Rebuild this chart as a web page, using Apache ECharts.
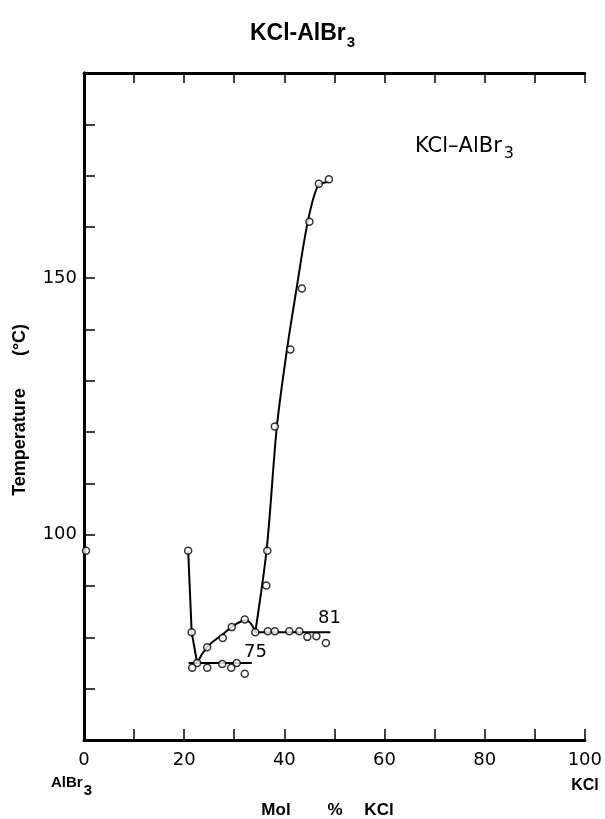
<!DOCTYPE html>
<html>
<head>
<meta charset="utf-8">
<script src="https://cdn.jsdelivr.net/npm/echarts@6/dist/echarts.min.js"></script>
<style>
  html, body { margin: 0; padding: 0; background: #fff; }
  #chart { width: 605px; height: 819px; }
</style>
</head>
<body>
<div id="chart"></div>
<script>
// measured points (mol % KCl, temperature in degC)
var measured = [
    [0.4, 96.9], [20.8, 96.9], [21.5, 81.0], [22.6, 75.0], [21.6, 74.1],
    [24.6, 74.1], [27.6, 74.8], [29.4, 74.1], [30.5, 75.0], [32.1, 72.9],
    [24.6, 78.1], [27.7, 79.9], [29.5, 82.0], [32.1, 83.5], [34.2, 81.0],
    [36.7, 81.2], [38.1, 81.2], [41.0, 81.2], [43.0, 81.2], [44.6, 80.1],
    [46.4, 80.2], [48.3, 78.9], [36.6, 96.9], [36.4, 90.1], [38.1, 121.1],
    [41.2, 136.1], [43.5, 148.0], [45.0, 161.0], [46.9, 168.4], [48.9, 169.3]
];
// drawn curves
var leftBranch = [[20.8, 96.9], [21.5, 81.0], [22.6, 75.0]];
var hump = [[22.6, 75.0], [24.6, 78.1], [27.7, 80.6], [30.5, 82.7], [32.3, 83.3], [34.2, 81.0]];
var rightBranch = [[34.2, 81.0], [36.5, 97.4], [38.5, 121.0], [40.5, 135.9], [42.4, 147.7],
    [44.6, 160.6], [46.7, 168.0], [48.9, 168.8]];
var line75 = [[20.9, 75.0], [33.5, 75.0]];
var line81 = [[34.2, 81.0], [49.2, 81.0]];
var xTicks = [0, 20, 40, 60, 80, 100];
var yTicks = [100, 150];

var myChart = echarts.init(document.getElementById('chart'));
var font = 'Liberation Sans, Arial, sans-serif';
var font2 = 'DejaVu Sans, sans-serif';

function curve(data, smooth) {
    return {
        type: 'line',
        data: data,
        smooth: smooth,
        showSymbol: false,
        symbol: 'none',
        silent: true,
        lineStyle: { color: '#000', width: 2 },
        z: 2
    };
}

function label(txt, x, y, size, bold, rot) {
    return {
        type: 'text', x: x, y: y, rotation: rot || 0,
        style: {
            text: txt, fontSize: size, fontWeight: bold ? 'bold' : 'normal', fontFamily: font,
            fill: '#000', textAlign: 'center', textVerticalAlign: 'middle'
        }
    };
}

var option = {
    animation: false,
    backgroundColor: '#fff',
    grid: { left: 84, top: 73, width: 514, height: 667 },
    xAxis: [{
        type: 'value', min: 0, max: 100, interval: 10,
        axisLine: { lineStyle: { color: '#000', width: 3 } },
        axisTick: { inside: true, length: 11, lineStyle: { color: '#000', width: 1.5 } },
        splitLine: { show: false },
        axisLabel: {
            color: '#000', fontSize: 18, fontFamily: font2, margin: 11,
            formatter: function (v) { return xTicks.indexOf(v) >= 0 ? v : ''; }
        }
    }, {
        type: 'value', min: 0, max: 100, interval: 10, position: 'top',
        axisLine: { show: true, lineStyle: { color: '#000', width: 3 } },
        axisTick: { show: true, inside: true, length: 10, lineStyle: { color: '#000', width: 1.5 } },
        splitLine: { show: false },
        axisLabel: { show: false }
    }],
    yAxis: [{
        type: 'value', min: 60, max: 190, interval: 10,
        axisLine: { lineStyle: { color: '#000', width: 3 } },
        axisTick: { inside: true, length: 11, lineStyle: { color: '#000', width: 1.5 } },
        splitLine: { show: false },
        axisLabel: {
            color: '#000', fontSize: 18, fontFamily: font2, margin: 7,
            formatter: function (v) { return yTicks.indexOf(v) >= 0 ? v : ''; }
        }
    }, {
        type: 'value', min: 60, max: 190, position: 'right',
        axisLine: { show: true, lineStyle: { color: '#000', width: 3 } },
        axisTick: { show: false },
        splitLine: { show: false },
        axisLabel: { show: false }
    }],
    series: [
        curve(leftBranch, false),
        curve(hump, true),
        curve(rightBranch, 0.3),
        curve(line75, false),
        curve(line81, false),
        {
            type: 'scatter',
            data: measured,
            symbol: 'circle',
            symbolSize: 7,
            itemStyle: { color: '#fff', borderColor: '#000', borderWidth: 1.5 },
            z: 3
        }
    ],
    graphic: [
        {
            type: 'text', left: 'center', top: 22,
            style: {
                text: '{a|KCl-AlBr}{s|3}',
                rich: {
                    a: { fontSize: 23, fontWeight: 'bold', fontFamily: font, fill: '#000', lineHeight: 32, verticalAlign: 'top' },
                    s: { fontSize: 15, fontWeight: 'bold', fontFamily: font, fill: '#000', lineHeight: 32, padding: [13, 0, 0, 1], verticalAlign: 'top' }
                }
            }
        },
        {
            type: 'text', left: 415, top: 136,
            style: {
                text: '{a|KCl\u2013AlBr}{s|3}',
                rich: {
                    a: { fontSize: 21, fontFamily: font2, fill: '#000', lineHeight: 30, verticalAlign: 'top' },
                    s: { fontSize: 16, fontFamily: font2, fill: '#000', lineHeight: 30, padding: [10, 0, 0, 2], verticalAlign: 'top' }
                }
            }
        },
        {
            type: 'text', x: 318, y: 627,
            style: { text: '81', fontSize: 18, fontFamily: font2, fill: '#000', textAlign: 'left', textVerticalAlign: 'bottom' }
        },
        {
            type: 'text', x: 244, y: 661,
            style: { text: '75', fontSize: 18, fontFamily: font2, fill: '#000', textAlign: 'left', textVerticalAlign: 'bottom' }
        },
        {
            type: 'text', left: 51, top: 775,
            style: {
                text: '{a|AlBr}{s|3}',
                rich: {
                    a: { fontSize: 15, fontWeight: 'bold', fontFamily: font, fill: '#000', lineHeight: 22, verticalAlign: 'top' },
                    s: { fontSize: 15, fontWeight: 'bold', fontFamily: font, fill: '#000', lineHeight: 22, padding: [8, 0, 0, 1], verticalAlign: 'top' }
                }
            }
        },
        label('KCl', 585, 786, 16, true),
        label('Mol', 276, 810, 17, true),
        label('%', 335, 810, 17, true),
        label('KCl', 379, 810, 17, true),
        label('Temperature', 20, 442, 18, true, Math.PI / 2),
        label('(\u00b0C)', 20, 340, 18, true, Math.PI / 2)
    ]
};
myChart.setOption(option);
</script>
</body>
</html>
